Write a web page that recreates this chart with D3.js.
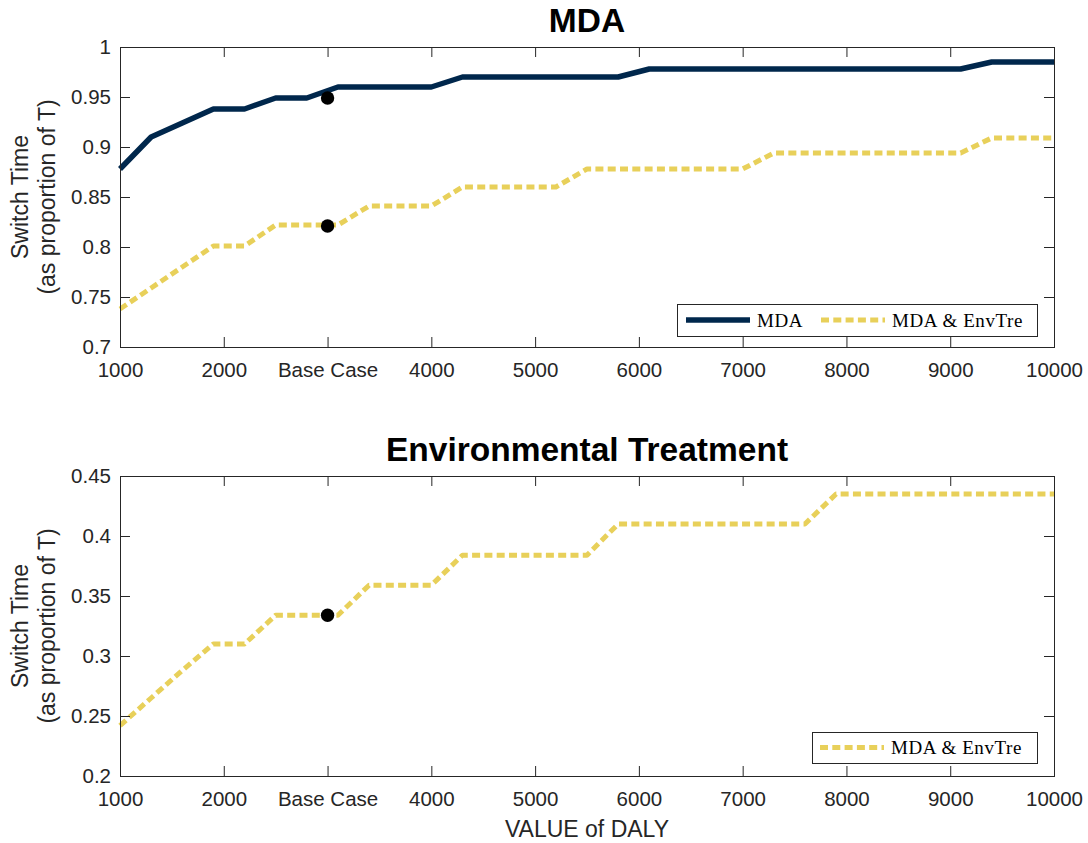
<!DOCTYPE html>
<html>
<head>
<meta charset="utf-8">
<script src="https://cdn.jsdelivr.net/npm/d3@7"></script>
<style>
  html, body { margin: 0; padding: 0; background: #ffffff; }
  svg { display: block; }
</style>
</head>
<body>
<svg id="chart" width="1088" height="843"></svg>
<script>
// DALY values on the x axis (one sample every 300)
const daly = [1000, 1300, 1600, 1900, 2200, 2500, 2800, 3100, 3400, 3700, 4000,
              4300, 4600, 4900, 5200, 5500, 5800, 6100, 6400, 6700, 7000,
              7300, 7600, 7900, 8200, 8500, 8800, 9100, 9400, 9700, 10000];

// Switch time for MDA, MDA only strategy
const mdaOnly = [0.878, 0.910, 0.924, 0.938, 0.938, 0.949, 0.949, 0.960, 0.960, 0.960, 0.960,
                 0.970, 0.970, 0.970, 0.970, 0.970, 0.970, 0.978, 0.978, 0.978, 0.978,
                 0.978, 0.978, 0.978, 0.978, 0.978, 0.978, 0.978, 0.985, 0.985, 0.985];

// Switch time for MDA, combined MDA & environmental treatment strategy
const mdaCombined = [0.738, 0.759, 0.780, 0.801, 0.801, 0.822, 0.822, 0.822, 0.841, 0.841, 0.841,
                     0.860, 0.860, 0.860, 0.860, 0.878, 0.878, 0.878, 0.878, 0.878, 0.878,
                     0.894, 0.894, 0.894, 0.894, 0.894, 0.894, 0.894, 0.909, 0.909, 0.909];

// Switch time for environmental treatment, combined strategy
const envCombined = [0.242, 0.265, 0.288, 0.310, 0.310, 0.334, 0.334, 0.334, 0.359, 0.359, 0.359,
                     0.384, 0.384, 0.384, 0.384, 0.384, 0.410, 0.410, 0.410, 0.410, 0.410,
                     0.410, 0.410, 0.435, 0.435, 0.435, 0.435, 0.435, 0.435, 0.435, 0.435];

// Base case markers
const baseCaseDaly = 3000;
const baseMdaOnly = 0.949;
const baseMdaCombined = 0.821;
const baseEnvCombined = 0.334;

// Axis ticks
const xTicks = [1000, 2000, 3000, 4000, 5000, 6000, 7000, 8000, 9000, 10000];
const xTickLabels = ["1000", "2000", "Base Case", "4000", "5000", "6000", "7000", "8000", "9000", "10000"];
const yTicksTop = [0.7, 0.75, 0.8, 0.85, 0.9, 0.95, 1];
const yTicksBottom = [0.2, 0.25, 0.3, 0.35, 0.4, 0.45];

const NAVY = "#00274C";
const MAIZE = "#E8D05A";
const AXIS = "#262626";
const SANS = "'Liberation Sans', Arial, Helvetica, sans-serif";
const SERIF = "'Liberation Serif', 'Times New Roman', serif";

const svg = d3.select("#chart");
svg.append("rect").attr("width", 1088).attr("height", 843).attr("fill", "#ffffff");

const left = 120, right = 1054;
const x = d3.scaleLinear().domain([1000, 10000]).range([left, right]);

function panel(opts) {
  const y = d3.scaleLinear().domain(opts.yDomain).range([opts.bottom, opts.top]);
  const g = svg.append("g");

  // title
  g.append("text")
    .attr("x", (left + right) / 2).attr("y", opts.top - 15)
    .attr("text-anchor", "middle")
    .attr("font-family", SANS).attr("font-weight", "bold").attr("font-size", 33.5)
    .attr("fill", "#000").text(opts.title);

  // y label (two lines)
  const cy = (opts.top + opts.bottom) / 2;
  [["Switch Time", 28], ["(as proportion of T)", 55]].forEach(([t, bx]) => {
    g.append("text")
      .attr("transform", `translate(${bx},${cy}) rotate(-90)`)
      .attr("text-anchor", "middle")
      .attr("font-family", SANS).attr("font-size", 23)
      .attr("fill", AXIS).text(t);
  });

  // series
  const line = d3.line().x((d, i) => x(daly[i])).y(d => y(d));
  opts.series.forEach(s => {
    const p = g.append("path")
      .datum(s.values)
      .attr("d", line)
      .attr("fill", "none")
      .attr("stroke", s.color)
      .attr("stroke-width", s.width)
      .attr("stroke-linejoin", "round");
    if (s.dash) p.attr("stroke-dasharray", s.dash);
  });

  // base case markers
  opts.points.forEach(v => {
    g.append("circle").attr("cx", x(baseCaseDaly)).attr("cy", y(v)).attr("r", 6.7).attr("fill", "#000");
  });

  // axes
  const fmtY = d => String(+d.toFixed(2));
  const styleAxis = sel => {
    sel.select(".domain").remove();
    sel.selectAll(".tick line").attr("stroke", AXIS).attr("stroke-width", 1);
    sel.selectAll(".tick text").attr("fill", AXIS).attr("font-family", SANS).attr("font-size", 20.5);
  };
  g.append("g").attr("transform", `translate(0,${opts.bottom})`)
    .call(d3.axisBottom(x).tickValues(xTicks).tickSize(-10).tickPadding(15)
      .tickFormat((d, i) => xTickLabels[i]))
    .call(styleAxis);
  g.append("g").attr("transform", `translate(0,${opts.top})`)
    .call(d3.axisTop(x).tickValues(xTicks).tickSize(-10).tickFormat(""))
    .call(styleAxis);
  g.append("g").attr("transform", `translate(${left},0)`)
    .call(d3.axisLeft(y).tickValues(opts.yTicks).tickSize(-10).tickPadding(9).tickFormat(fmtY))
    .call(styleAxis);
  g.append("g").attr("transform", `translate(${right},0)`)
    .call(d3.axisRight(y).tickValues(opts.yTicks).tickSize(-10).tickFormat(""))
    .call(styleAxis);

  // axes box
  g.append("rect")
    .attr("x", left + 0.5).attr("y", opts.top + 0.5)
    .attr("width", right - left).attr("height", opts.bottom - opts.top)
    .attr("fill", "none").attr("stroke", AXIS).attr("stroke-width", 1);

  // legend
  const L = opts.legend;
  g.append("rect")
    .attr("x", L.x + 0.5).attr("y", L.y + 0.5).attr("width", L.w).attr("height", L.h)
    .attr("fill", "#fff").attr("stroke", AXIS).attr("stroke-width", 1);
  L.items.forEach(it => {
    const ly = L.y + L.h / 2;
    const p = g.append("line")
      .attr("x1", it.x).attr("x2", it.x + 64).attr("y1", ly).attr("y2", ly)
      .attr("stroke", it.color).attr("stroke-width", it.width);
    if (it.dash) p.attr("stroke-dasharray", it.dash);
    g.append("text")
      .attr("x", it.x + 71).attr("y", ly + 6.5)
      .attr("font-family", SERIF).attr("font-size", 19).attr("letter-spacing", 0.6)
      .attr("fill", "#000").text(it.label);
  });
}

panel({
  title: "MDA",
  top: 47, bottom: 347,
  yDomain: [0.7, 1], yTicks: yTicksTop,
  series: [
    { values: mdaOnly, color: NAVY, width: 5.5 },
    { values: mdaCombined, color: MAIZE, width: 5, dash: "8,4.3" }
  ],
  points: [baseMdaOnly, baseMdaCombined],
  legend: {
    x: 677, y: 304, w: 360, h: 32,
    items: [
      { x: 686, label: "MDA", color: NAVY, width: 5.5 },
      { x: 821, label: "MDA & EnvTre", color: MAIZE, width: 5, dash: "8,4.3" }
    ]
  }
});

panel({
  title: "Environmental Treatment",
  top: 476, bottom: 776,
  yDomain: [0.2, 0.45], yTicks: yTicksBottom,
  series: [
    { values: envCombined, color: MAIZE, width: 5, dash: "8,4.3" }
  ],
  points: [baseEnvCombined],
  legend: {
    x: 812, y: 732, w: 225, h: 31,
    items: [
      { x: 820, label: "MDA & EnvTre", color: MAIZE, width: 5, dash: "8,4.3" }
    ]
  }
});

// shared x axis label
svg.append("text")
  .attr("x", (left + right) / 2).attr("y", 836.5)
  .attr("text-anchor", "middle")
  .attr("font-family", SANS).attr("font-size", 23)
  .attr("fill", AXIS).text("VALUE of DALY");
</script>
</body>
</html>
